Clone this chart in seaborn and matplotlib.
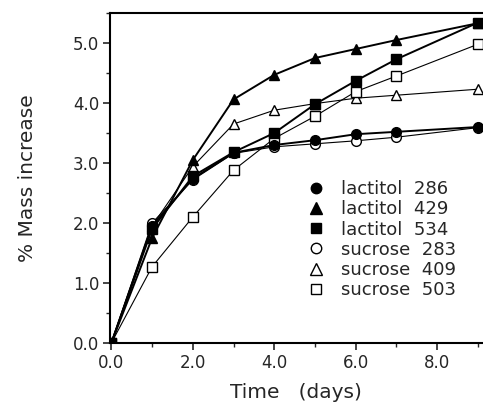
import numpy as np
import pandas as pd
import matplotlib
matplotlib.use("Agg")
import matplotlib.pyplot as plt
import seaborn as sns
from matplotlib.lines import Line2D
from matplotlib.ticker import MultipleLocator, FormatStrFormatter

# dane
days = [0, 1, 2, 3, 4, 5, 6, 7, 9]
series_names = ["lactitol  286", "lactitol  429", "lactitol  534",
                "sucrose  283", "sucrose  409", "sucrose  503"]
lactitol_286 = [0.0, 1.95, 2.74, 3.17, 3.30, 3.38, 3.48, 3.52, 3.60]
lactitol_429 = [0.0, 1.75, 3.05, 4.06, 4.47, 4.75, 4.90, 5.05, 5.33]
lactitol_534 = [0.0, 1.90, 2.78, 3.18, 3.50, 3.98, 4.37, 4.73, 5.34]
sucrose_283 = [0.0, 2.00, 2.72, 3.16, 3.27, 3.32, 3.37, 3.43, 3.59]
sucrose_409 = [0.0, 1.95, 2.94, 3.65, 3.88, 3.99, 4.08, 4.13, 4.23]
sucrose_503 = [0.0, 1.27, 2.10, 2.88, 3.41, 3.78, 4.19, 4.45, 4.98]
values = [lactitol_286, lactitol_429, lactitol_534, sucrose_283, sucrose_409, sucrose_503]

markers = ["o", "^", "s", "o", "^", "s"]
filled = [True, True, True, False, False, False]

rows = []
for name, vals in zip(series_names, values):
    for d, v in zip(days, vals):
        rows.append({"day": d, "mass": v, "series": name})
df = pd.DataFrame(rows)

sns.set_style("ticks")
plt.rcParams["font.family"] = ["DejaVu Sans"]

fig = plt.figure(figsize=(4.83, 4.13), dpi=100)
ax = fig.add_axes([0.228, 0.1695, 0.77, 0.799])

for name, m, f in zip(series_names, markers, filled):
    sub = df[df["series"] == name]
    sns.lineplot(data=sub, x="day", y="mass", ax=ax, color="black",
                 lw=1.4 if f else 0.8, marker=m, markersize=7 if m != "^" else 7.5,
                 markerfacecolor="black" if f else "white",
                 markeredgecolor="black", markeredgewidth=1.0,
                 legend=False, zorder=3 if f else 2)

ax.set_xlim(-0.03, 9.1)
ax.set_ylim(0, 5.5)
ax.xaxis.set_major_locator(MultipleLocator(2))
ax.xaxis.set_minor_locator(MultipleLocator(1))
ax.yaxis.set_major_locator(MultipleLocator(1))
ax.yaxis.set_minor_locator(MultipleLocator(0.5))
ax.xaxis.set_major_formatter(FormatStrFormatter("%.1f"))
ax.yaxis.set_major_formatter(FormatStrFormatter("%.1f"))
ax.tick_params(which="major", direction="out", length=5, width=1.2, labelsize=12, pad=3)
ax.tick_params(which="minor", direction="out", length=3, width=1.0)
for s in ["left", "bottom", "top"]:
    ax.spines[s].set_linewidth(1.5)
    ax.spines[s].set_color("black")
ax.spines["right"].set_visible(False)

ax.set_xlabel("Time   (days)", fontsize=14.5, labelpad=8)
ax.set_ylabel("% Mass increase", fontsize=14.5, labelpad=26)

handles = [Line2D([], [], ls="none", marker=m, markersize=7.5 if m != "^" else 8,
                  markerfacecolor="black" if f else "white", markeredgecolor="black")
           for m, f in zip(markers, filled)]
ax.legend(handles, series_names, loc="upper left", bbox_to_anchor=(0.515, 0.515),
          frameon=False, fontsize=13, handlelength=0.8, handletextpad=1.0,
          labelspacing=0.12, borderaxespad=0)

fig.savefig("out.png", dpi=100)
